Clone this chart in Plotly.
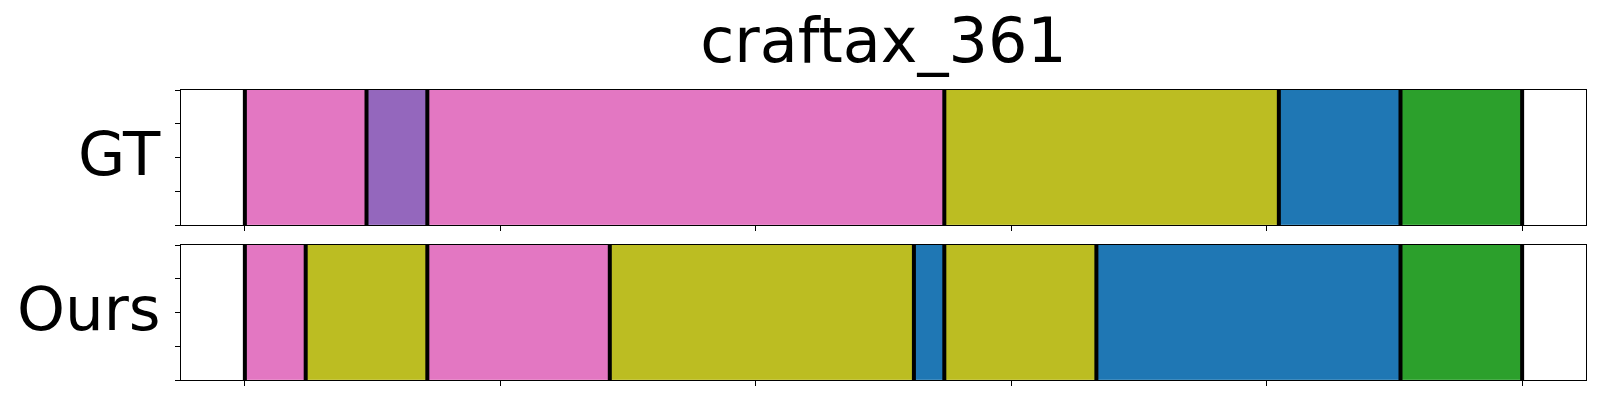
import plotly.graph_objects as go
from plotly.subplots import make_subplots

# Segment lengths (in frames) and their colour classes
total_frames = 42
gt_lengths = [4, 2, 17, 11, 4, 4]
gt_colors = ["#e377c2", "#9467bd", "#e377c2", "#bcbd22", "#1f77b4", "#2ca02c"]
ours_lengths = [2, 4, 6, 10, 1, 5, 10, 4]
ours_colors = ["#e377c2", "#bcbd22", "#e377c2", "#bcbd22", "#1f77b4", "#bcbd22", "#1f77b4", "#2ca02c"]
row_labels = ["GT", "Ours"]
title = "craftax_361"
x_ticks = [0, 0.2, 0.4, 0.6, 0.8, 1.0]
y_ticks = [0, 0.25, 0.5, 0.75, 1.0]

W, H = 1600, 400
ml, mr, mt, mb = 181, 14, 90, 20
plot_h = H - mt - mb

fig = make_subplots(rows=2, cols=1, shared_xaxes=False, vertical_spacing=20 / plot_h)


def add_row(lengths, colors, row):
    start = 0
    bounds = [0.0]
    for L, c in zip(lengths, colors):
        fig.add_trace(go.Bar(
            x=[L / total_frames], base=[start / total_frames], y=[0.5], width=[1.0],
            orientation="h", marker=dict(color=c, line=dict(width=0.8, color=c)),
            showlegend=False, hoverinfo="skip"), row=row, col=1)
        start += L
        bounds.append(start / total_frames)
    xs, ys = [], []
    for b in bounds:
        xs += [b, b, None]
        ys += [0, 1, None]
    fig.add_trace(go.Scatter(x=xs, y=ys, mode="lines",
                             line=dict(color="black", width=4),
                             showlegend=False, hoverinfo="skip"), row=row, col=1)


add_row(gt_lengths, gt_colors, 1)
add_row(ours_lengths, ours_colors, 2)

fig.update_layout(barmode="overlay", bargap=0, hovermode=False)

axis_common = dict(showline=True, linecolor="black", linewidth=1.2, mirror=True,
                   ticks="outside", ticklen=5, tickwidth=1.2, tickcolor="black",
                   showticklabels=False, showgrid=False, zeroline=False)
for r in (1, 2):
    fig.update_xaxes(range=[-0.05, 1.05], tickvals=x_ticks, row=r, col=1, **axis_common)
    fig.update_yaxes(range=[0, 1], tickvals=y_ticks, row=r, col=1, **axis_common)

font = "DejaVu Sans"
annotations = []
for i, lab in enumerate(row_labels):
    yref = "y domain" if i == 0 else "y2 domain"
    annotations.append(dict(text=lab, xref="paper", x=0, xanchor="right", xshift=-18,
                            yref=yref, y=0.5, yanchor="middle", yshift=4, showarrow=False,
                            font=dict(family=font, size=61, color="black")))
fig.update_layout(
    width=W, height=H,
    margin=dict(l=ml, r=mr, t=mt, b=mb),
    plot_bgcolor="white", paper_bgcolor="white",
    title=dict(text=title, x=(ml + (W - mr)) / 2 / W, xanchor="center", xref="container",
               y=1 - 40 / H, yanchor="middle", yref="container",
               font=dict(family=font, size=62, color="black")),
    annotations=annotations,
)

fig.write_html("out.html", config={"displayModeBar": False},
               post_script="document.body.style.margin='0';")
